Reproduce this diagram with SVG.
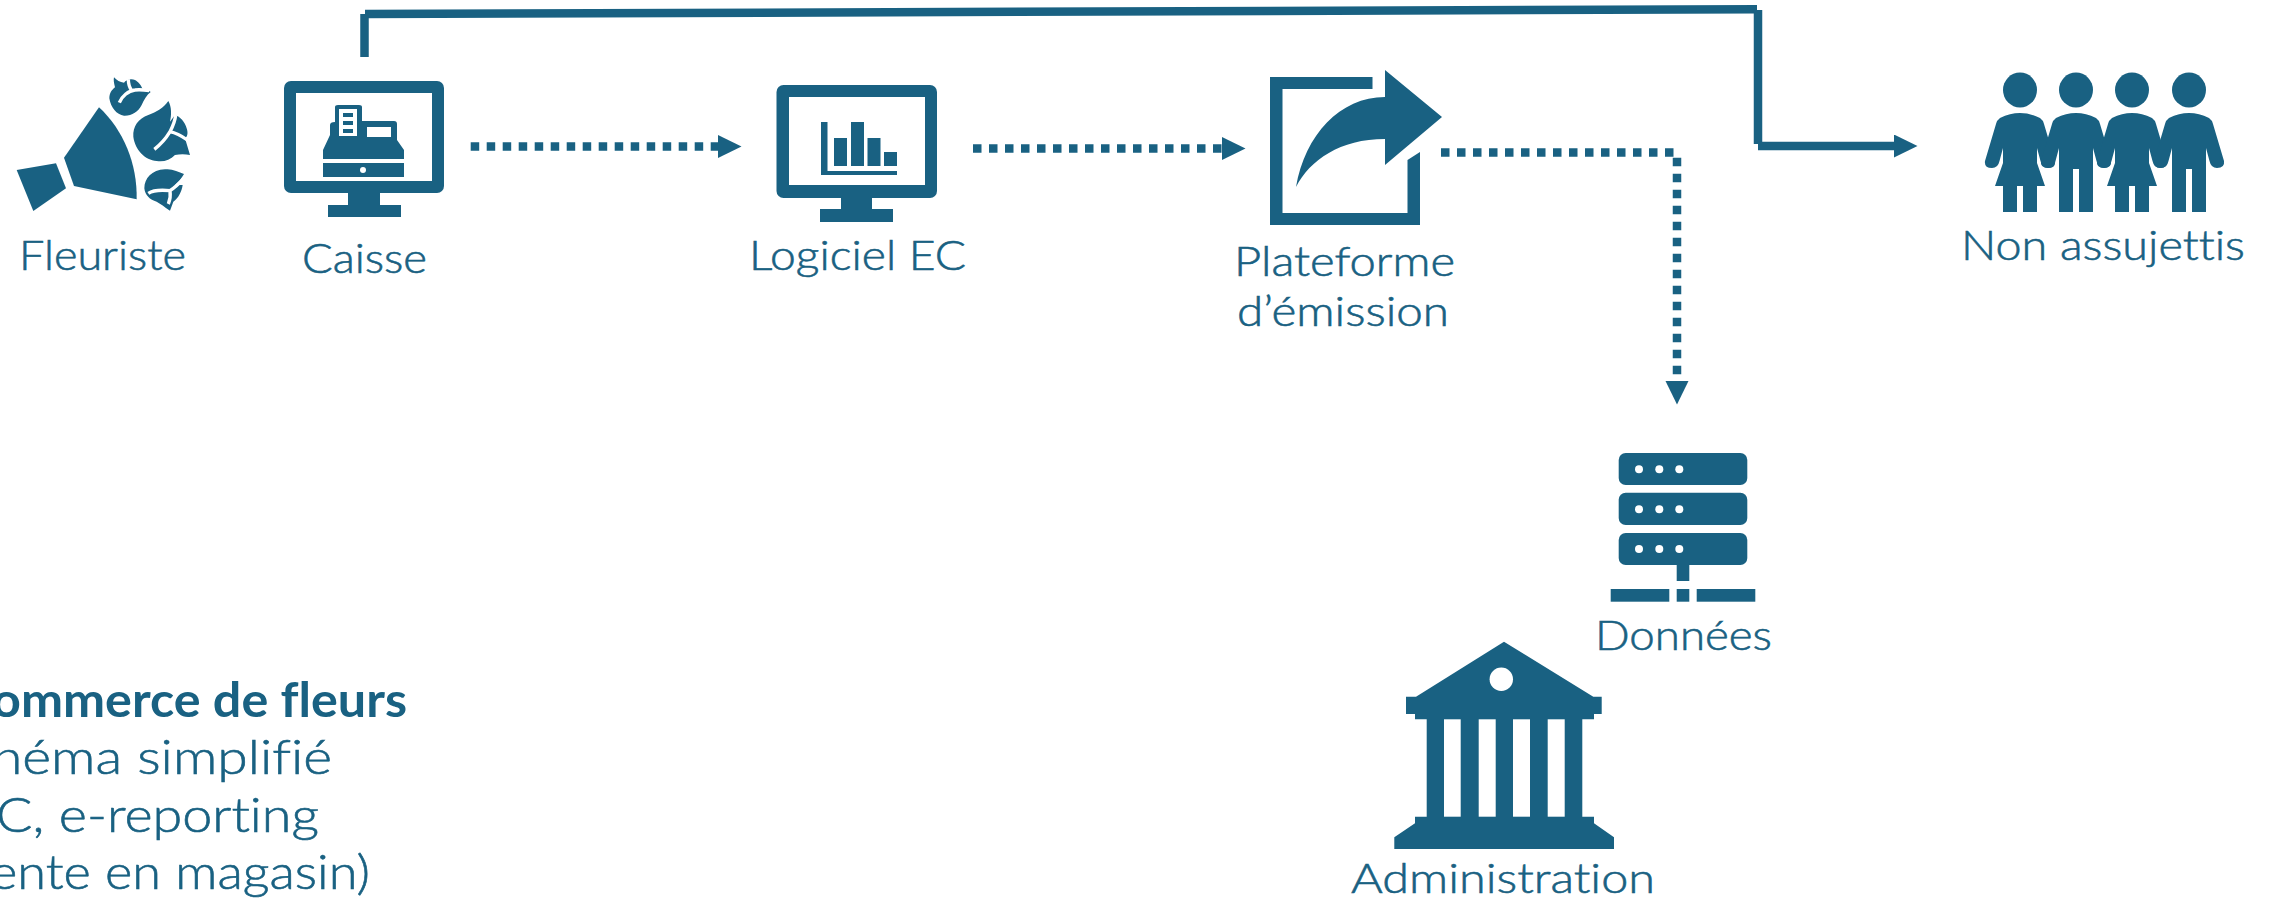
<svg xmlns="http://www.w3.org/2000/svg" width="2273" height="898" viewBox="0 0 2273 898">
<style>
text{font-family:"Lato","Noto Sans",sans-serif;font-size:41px;font-weight:300;fill:#196182;stroke:#196182;stroke-width:.6;font-variant-ligatures:none}
.l{font-size:48px}
.b{font-weight:700;stroke:none}
.i{fill:#196182;stroke:none}
.w{fill:#fff;stroke:none}
.cut{fill:none;stroke:#fff;stroke-width:10}
.con{fill:none;stroke:#196182;stroke-width:8.500}
.dot{stroke-dasharray:8.500 7.500}
</style>
<defs>
<marker id="ah" markerUnits="userSpaceOnUse" markerWidth="26" markerHeight="26" refX="0" refY="11.500" orient="auto"><path d="M0 0L23.500 11.500L0 23Z" fill="#196182"/></marker>
<path id="boy" class="i" d="M-20 118Q-10 113 0 113Q10 113 20 118Q23 120 24 124L35 161Q36 168 28 168Q22 168 20.500 161L17 148V212H3V169H-3V212H-17V148L-20.500 161Q-22 168-28 168Q-36 168-35 161L-24 124Q-23 120-20 118Z"/>
<path id="girl" class="i" d="M-20 118Q-10 113 0 113Q10 113 20 118Q23 120 24 124L35 161Q36 168 28 168Q22 168 20.500 161L17 148L17 163L25 186H17V212H3V186H-3V212H-17V186H-25L-17 163L-17 148L-20.500 161Q-22 168-28 168Q-36 168-35 161L-24 124Q-23 120-20 118Z"/>
</defs>
<rect width="2273" height="898" fill="#fff"/>
<g id="connectors">
<path class="con" d="M364.500 57V14"/>
<path class="con" d="M365 14L1757 9.300"/>
<path class="con" d="M1758 10V144"/>
<path class="con" d="M1758 146H1894" marker-end="url(#ah)"/>
<path class="con dot" d="M470.700 146.500H718" marker-end="url(#ah)"/>
<path class="con dot" d="M973 148.500H1222" marker-end="url(#ah)"/>
<path class="con dot" d="M1441 152.500H1673.500"/>
<path class="con dot" d="M1677 157.700V381" marker-end="url(#ah)"/>
</g>
<g id="fleuriste">
<g transform="scale(.33333)">
<path class="i" d="M50 510L168 490L198 565L100 633Z"/>
<path class="i" d="M297 322L192 473L222 558L410 598C412 490 370 390 297 322Z"/>
<path class="i" d="M342 232C350 240 360 248 372 248C378 238 395 235 405 240C415 245 425 258 428 268C440 268 448 272 452 276C440 285 432 300 425 315C415 335 395 348 372 347C350 345 332 322 328 295C328 280 335 270 345 262C342 250 340 240 342 232Z"/>
<path class="cut" d="M358 308C365 290 385 272 405 270C420 268 435 270 448 272M385 238C385 250 388 262 395 272"/>
<path class="i" d="M505 303C515 320 515 345 510 365L525 345C540 350 555 365 560 385C565 400 562 410 555 415L570 465C555 462 540 462 525 465C510 480 490 487 470 483C435 480 405 450 400 410C398 380 415 355 445 345C470 335 490 325 505 303Z"/>
<path class="cut" d="M463 448C480 435 495 420 510 395C525 398 545 408 562 420M510 395C518 380 525 365 527 345"/>
<path class="i" d="M495 508C515 505 535 515 552 522C545 535 535 545 525 555L548 555C545 575 535 595 520 605L510 632C495 622 480 610 470 605C450 600 435 585 433 565C433 535 455 510 495 508Z"/>
<path class="cut" d="M445 580C460 570 490 570 510 572C525 562 538 550 552 535M510 572C512 585 510 600 505 612"/>
</g>
<text x="19" y="270" textLength="167" lengthAdjust="spacingAndGlyphs">Fleuriste</text>
</g>
<g id="caisse">
<rect class="i" x="284" y="81" width="160" height="112" rx="7"/>
<rect class="w" x="296" y="93" width="136" height="88"/>
<path class="i" d="M348 193H380V205H401V217H328V205H348Z"/>
<path class="i" d="M323 159V150L330 135V125Q330 122 335 122V107Q335 105 338 105H359Q362 105 362 107V121H394Q397 121 397 124V140L404 150V159Z"/>
<rect class="i" x="323" y="163" width="81" height="14"/>
<circle class="w" cx="363" cy="170" r="3"/>
<rect class="w" x="339" y="109" width="18" height="27"/>
<path class="i" d="M343 113H353V117H343ZM343 121H353V125H343ZM343 129H353V133H343Z"/>
<rect class="w" x="367" y="127" width="24" height="10"/>
<text x="302" y="273" textLength="125" lengthAdjust="spacingAndGlyphs">Caisse</text>
</g>
<g id="logiciel">
<rect class="i" x="776.500" y="85" width="160.500" height="113" rx="7"/>
<rect class="w" x="789" y="97" width="136" height="88"/>
<path class="i" d="M841 198H872V209H893V222H820V209H841Z"/>
<path class="i" d="M821 122H827.500V171H897V175H821Z"/>
<rect class="i" x="834" y="138" width="13" height="28"/>
<rect class="i" x="851" y="122" width="13" height="44"/>
<rect class="i" x="867.500" y="138" width="13" height="28"/>
<rect class="i" x="884" y="152" width="13" height="14"/>
<text x="749" y="270" textLength="217" lengthAdjust="spacingAndGlyphs">Logiciel EC</text>
</g>
<g id="plateforme">
<path class="i" d="M1270 77H1372.500V89H1282.500V213H1407.500V160L1420 152V225H1270Z"/>
<path class="i" d="M1385 70L1442 117L1385 165V139C1340 139 1310 160 1296 187C1305 135 1340 97 1385 97Z"/>
<text x="1234" y="276" textLength="221" lengthAdjust="spacingAndGlyphs">Plateforme</text>
<text x="1237" y="326" textLength="212" lengthAdjust="spacingAndGlyphs">d’émission</text>
</g>
<g id="non-assujettis">
<ellipse class="i" cx="2020" cy="90" rx="17" ry="17.500"/>
<ellipse class="i" cx="2076" cy="90" rx="17" ry="17.500"/>
<ellipse class="i" cx="2132" cy="90" rx="17" ry="17.500"/>
<ellipse class="i" cx="2189" cy="90" rx="17" ry="17.500"/>
<use href="#girl" x="2020"/>
<use href="#boy" x="2076"/>
<use href="#girl" x="2132"/>
<use href="#boy" x="2189"/>
<text x="1961" y="260" textLength="284" lengthAdjust="spacingAndGlyphs">Non assujettis</text>
</g>
<g id="donnees">
<rect class="i" x="1618.700" y="453" width="128.600" height="32" rx="7"/>
<rect class="i" x="1618.700" y="492.700" width="128.600" height="32.300" rx="7"/>
<rect class="i" x="1618.700" y="533" width="128.600" height="32" rx="7"/>
<g class="w"><circle cx="1639" cy="469.300" r="4"/><circle cx="1659.300" cy="469.300" r="4"/><circle cx="1679.300" cy="469.300" r="4"/><circle cx="1639" cy="509.300" r="4"/><circle cx="1659.300" cy="509.300" r="4"/><circle cx="1679.300" cy="509.300" r="4"/><circle cx="1639" cy="549" r="4"/><circle cx="1659.300" cy="549" r="4"/><circle cx="1679.300" cy="549" r="4"/></g>
<rect class="i" x="1676.700" y="565" width="12.600" height="16"/>
<rect class="i" x="1610.700" y="589" width="58.600" height="12.700"/>
<rect class="i" x="1676.700" y="589" width="12.600" height="12.700"/>
<rect class="i" x="1696.700" y="589" width="58.600" height="12.700"/>
<text x="1595" y="650" textLength="177" lengthAdjust="spacingAndGlyphs">Données</text>
</g>
<g id="administration">
<path class="i" d="M1504 641.700L1593.300 696.700H1601.700V714H1594V719.300H1582.300V816.700H1594V823.300L1614 837.300V849H1394.300V837.300L1415 823.300V816.700H1426.700V719.300H1415V714H1406V696.700H1416Z"/>
<circle class="w" cx="1501.300" cy="679.300" r="11.700"/>
<rect class="w" x="1444" y="719.300" width="16.700" height="97.400"/>
<rect class="w" x="1478.700" y="719.300" width="17" height="97.400"/>
<rect class="w" x="1513" y="719.300" width="17" height="97.400"/>
<rect class="w" x="1547.700" y="719.300" width="17" height="97.400"/>
<text x="1351" y="893" textLength="304" lengthAdjust="spacingAndGlyphs">Administration</text>
</g>
<g id="legende">
<text class="l b" x="-8" y="717" textLength="415" lengthAdjust="spacingAndGlyphs">ommerce de fleurs</text>
<text class="l" x="-8" y="774" textLength="340" lengthAdjust="spacingAndGlyphs">héma simplifié</text>
<text class="l" x="-4" y="832" textLength="323" lengthAdjust="spacingAndGlyphs">C, e-reporting</text>
<text class="l" x="-10" y="889" textLength="380" lengthAdjust="spacingAndGlyphs">ente en magasin)</text>
</g>
</svg>
